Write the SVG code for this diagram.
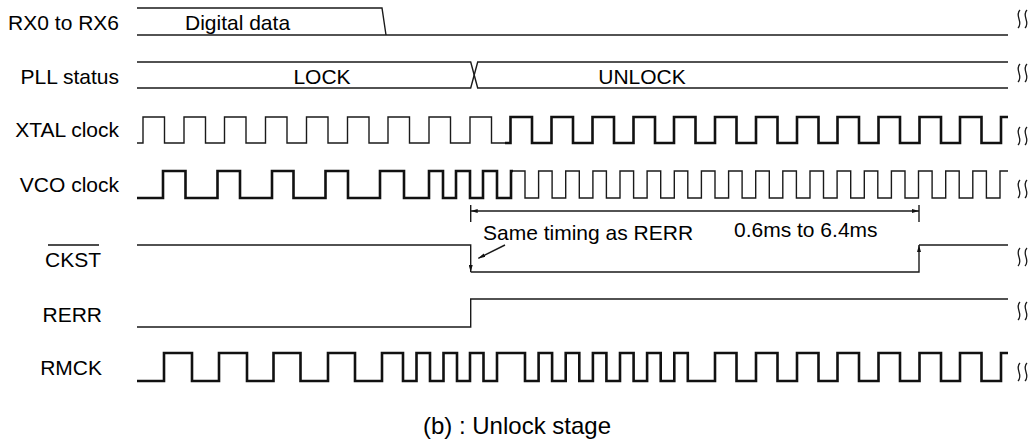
<svg xmlns="http://www.w3.org/2000/svg" width="1034" height="441" viewBox="0 0 1034 441">
<style>
text{font-family:"Liberation Sans",Arial,sans-serif;font-size:21px;fill:#000}
.l{text-anchor:end}
.m{text-anchor:middle}
.cap{font-size:24px}
.w{fill:none;stroke:#1a1a1a;stroke-width:1.4;stroke-linejoin:miter}
.t{fill:none;stroke:#111;stroke-width:2.6;stroke-linejoin:miter}
.br{fill:none;stroke:#1a1a1a;stroke-width:1.3}
</style>
<defs>
<marker id="ah" viewBox="0 0 7 4" refX="7" refY="2" markerWidth="7" markerHeight="4" markerUnits="userSpaceOnUse" orient="auto-start-reverse"><path d="M0 0 L7 2 L0 4 Z" fill="#111"/></marker>
<path id="brk" d="M3 0 C-3 6 7 12 1 18 M10 0 C4 6 14 12 8 18"/>
</defs>

<g id="labels">
<text class="l" x="119" y="30">RX0 to RX6</text>
<text class="l" x="119" y="84">PLL status</text>
<text class="l" x="119" y="137">XTAL clock</text>
<text class="l" x="119" y="192">VCO clock</text>
<text class="l" x="101" y="267">CKST</text>
<line x1="48" y1="245" x2="99" y2="245" stroke="#111" stroke-width="1.3"/>
<text class="l" x="102" y="322">RERR</text>
<text class="l" x="102" y="375">RMCK</text>
</g>

<g id="rx">
<path class="w" d="M137 8 H382 L386 35"/>
<path class="w" d="M137 35 H1008"/>
<text x="185" y="30">Digital data</text>
<use href="#brk" class="br" x="1017" y="10"/>
</g>

<g id="pll">
<path class="w" d="M137 62 H470.7 L477.7 88 H1008"/>
<path class="w" d="M137 88 H470.7 L477.7 62 H1008"/>
<text class="m" x="322" y="84">LOCK</text>
<text class="m" x="642" y="84">UNLOCK</text>
<use href="#brk" class="br" x="1017" y="64"/>
</g>

<g id="xtal">
<path class="w" d="M137 143 H143 V117 H164.5 V143 H184 V117 H205.5 V143 H224.5 V117 H246 V143 H265.5 V117 H287 V143 H306.5 V117 H328 V143 H347.5 V117 H369 V143 H388 V117 H409.5 V143 H429 V117 H450.5 V143 H470 V117 H491.5 V143 H505"/>
<path class="t" d="M505 143 H510.5 V117 H532 V143 H551.5 V117 H573 V143 H592.5 V117 H614 V143 H633.5 V117 H655 V143 H674 V117 H695.5 V143 H715 V117 H736.5 V143 H756 V117 H777.5 V143 H797 V117 H818.5 V143 H837.5 V117 H859 V143 H878.5 V117 H900 V143 H919.5 V117 H941 V143 H960 V117 H981.5 V143 H1001 V117 H1008"/>
<use href="#brk" class="br" x="1017" y="127"/>
</g>

<g id="vco">
<path class="t" d="M137 198 H163 V171 H185.5 V198 H217.5 V171 H240 V198 H272 V171 H293.5 V198 H325.5 V171 H348 V198 H380 V171 H404 V198 H429 V171 H443 V198 H456 V171 H470 V198 H483 V171 H497 V198 H511 V171 H513"/>
<path class="w" d="M513 171 H525 V198 H538.6 V171 H552.1 V198 H565.7 V171 H579.3 V198 H592.9 V171 H606.4 V198 H620 V171 H633.6 V198 H647.1 V171 H660.7 V198 H674.3 V171 H687.8 V198 H701.4 V171 H715 V198 H728.6 V171 H742.1 V198 H755.7 V171 H769.3 V198 H782.8 V171 H796.4 V198 H810 V171 H823.5 V198 H837.1 V171 H850.7 V198 H864.3 V171 H877.8 V198 H891.4 V171 H905 V198 H918.5 V171 H932.1 V198 H945.7 V171 H959.2 V198 H972.8 V171 H986.4 V198 H1000 V171 H1008"/>
<use href="#brk" class="br" x="1017" y="180"/>
</g>

<g id="ckst">
<path class="w" d="M137 245 H470.7 V272" marker-end="url(#ah)"/>
<path class="w" d="M470.7 272 H919 V245" marker-end="url(#ah)"/>
<path class="w" d="M919 245 H1008"/>
<use href="#brk" class="br" x="1017" y="248"/>
</g>

<g id="rerr">
<path class="w" d="M137 327 H470.7 V299 H1008"/>
<use href="#brk" class="br" x="1017" y="302"/>
</g>

<g id="rmck">
<path class="t" d="M137 381 H164 V353 H192 V381 H219 V353 H247 V381 H273.5 V353 H300.5 V381 H328 V353 H355 V381 H382 V353 H403 V381 H416.5 V353 H430 V381 H443.5 V353 H457 V381 H470 V353 H483.5 V381 H497 V353 H525 V381 H538.6 V353 H552.1 V381 H565.7 V353 H579.3 V381 H592.9 V353 H606.4 V381 H620 V353 H633.6 V381 H647.1 V353 H660.7 V381 H674.3 V353 H687.8 V381 H715 V353 H736.5 V381 H756 V353 H777.5 V381 H797 V353 H818.5 V381 H837.5 V353 H859 V381 H878.5 V353 H900 V381 H919.5 V353 H941 V381 H960 V353 H981.5 V381 H1001 V353 H1008"/>
<use href="#brk" class="br" x="1017" y="363"/>
</g>

<g id="connectors">
<path class="w" d="M470.7 205 V222"/>
<path class="w" d="M919 205 V222"/>
<path class="w" d="M470.7 211 H919" marker-start="url(#ah)" marker-end="url(#ah)"/>
<path class="w" d="M505 245 L478.3 258.3" marker-end="url(#ah)"/>
</g>

<g id="annotations">
<text x="483" y="240">Same timing as RERR</text>
<text x="734" y="237">0.6ms to 6.4ms</text>
<text class="m cap" x="517" y="434">(b) : Unlock stage</text>
</g>
</svg>
